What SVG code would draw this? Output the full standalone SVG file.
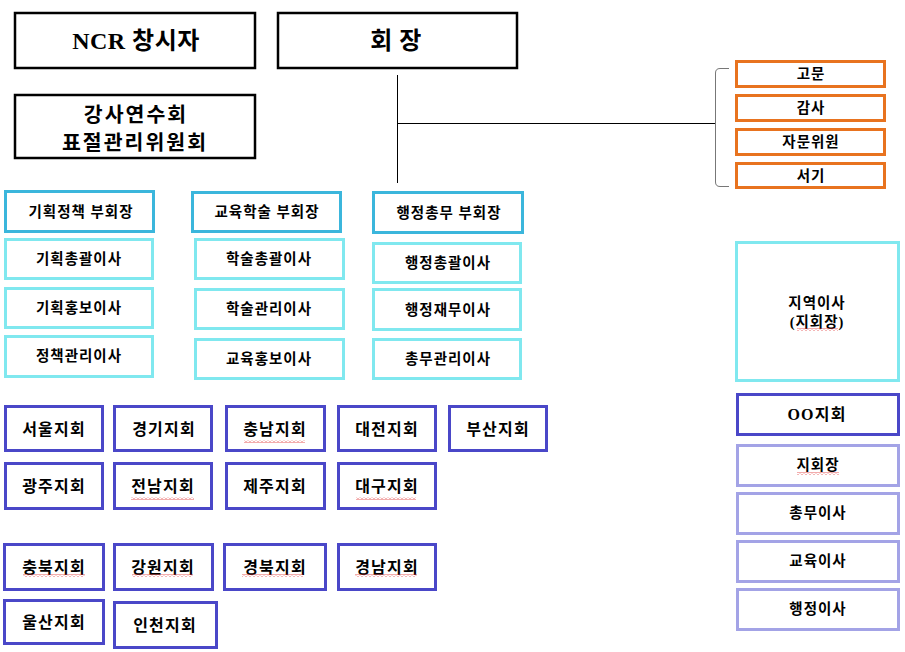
<svg xmlns="http://www.w3.org/2000/svg" width="905" height="652" viewBox="0 0 905 652">
<defs>
<pattern id="sq" x="0" y="0" width="4" height="3" patternUnits="userSpaceOnUse">
<path d="M0 2.5 L2 0.5 L4 2.5" fill="none" stroke="#e0302f" stroke-width="0.8"/>
</pattern>
<style>
rect{fill:#fff}
.blk{stroke:#000;stroke-width:2.5}
.hdr{stroke:#3bb6dc;stroke-width:3}
.cy{stroke:#80e8ef;stroke-width:3}
.or{stroke:#e8731f;stroke-width:3}
.db{stroke:#4a47c8;stroke-width:3}
.lp{stroke:#a3a3e6;stroke-width:3}
.sq{fill:url(#sq);stroke:none}
text{font-family:"Liberation Serif","Noto Sans CJK KR",serif;font-weight:bold;fill:#000;text-anchor:middle;dominant-baseline:central}
.big{font-size:24px;letter-spacing:0.5px}
.mid{font-size:20.5px;letter-spacing:2px}
.sm{font-size:14.5px;letter-spacing:1px}
.br{font-size:16px;letter-spacing:1.2px}
.line{stroke:#000;stroke-width:1;fill:none}
.brk{stroke:#777;stroke-width:1;fill:none}
</style>
</defs>

<g id="connectors">
<path class="line" d="M397.5 75 V183"/>
<path class="line" d="M397.5 123.5 H715"/>
<path class="brk" d="M729 68.5 H720 Q715.5 68.5 715.5 73 V182 Q715.5 186.5 720 186.5 H729"/>
</g>

<g id="ncr"><rect class="blk" x="15" y="13" width="240" height="55"/><text class="big" x="136" y="41">NCR 창시자</text></g>
<g id="chair"><rect class="blk" x="278" y="13" width="239" height="55"/><text class="big" x="396" y="41">회 장</text></g>
<g id="committee"><rect class="blk" x="15" y="95" width="240" height="63"/><text class="mid" x="136" y="115">강사연수회</text><text class="mid" x="135" y="143">표절관리위원회</text></g>

<g id="advisor"><rect class="or" x="736.5" y="61.5" width="148" height="25"/><text class="sm" x="811" y="74">고문</text></g>
<g id="audit"><rect class="or" x="736.5" y="95.5" width="148" height="25"/><text class="sm" x="811" y="108">감사</text></g>
<g id="consult"><rect class="or" x="736.5" y="129.5" width="148" height="25"/><text class="sm" x="811" y="142">자문위원</text></g>
<g id="secretary"><rect class="or" x="736.5" y="163.5" width="148" height="24"/><text class="sm" x="811" y="175.5">서기</text></g>

<g id="vp1"><rect class="hdr" x="5.5" y="191.5" width="148" height="40"/><text class="sm" x="81" y="211.5">기획정책 부회장</text></g>
<g id="d11"><rect class="cy" x="5.5" y="239.5" width="147" height="39"/><text class="sm" x="79" y="259">기획총괄이사</text></g>
<g id="d12"><rect class="cy" x="5.5" y="288.5" width="147" height="39"/><text class="sm" x="79" y="308">기획홍보이사</text></g>
<g id="d13"><rect class="cy" x="5.5" y="336.5" width="147" height="40"/><text class="sm" x="79" y="356">정책관리이사</text></g>

<g id="vp2"><rect class="hdr" x="192.5" y="192.5" width="148" height="39"/><text class="sm" x="267" y="212">교육학술 부회장</text></g>
<g id="d21"><rect class="cy" x="195.5" y="239.5" width="148" height="39"/><text class="sm" x="269" y="259">학술총괄이사</text></g>
<g id="d22"><rect class="cy" x="195.5" y="289.5" width="148" height="39"/><text class="sm" x="269" y="309">학술관리이사</text></g>
<g id="d23"><rect class="cy" x="195.5" y="339.5" width="148" height="39"/><text class="sm" x="269" y="359">교육홍보이사</text></g>

<g id="vp3"><rect class="hdr" x="373.5" y="192.5" width="149" height="40"/><text class="sm" x="449" y="212.5">행정총무 부회장</text></g>
<g id="d31"><rect class="cy" x="373.5" y="243.5" width="147" height="39"/><text class="sm" x="448" y="263">행정총괄이사</text></g>
<g id="d32"><rect class="cy" x="373.5" y="289.5" width="147" height="40"/><text class="sm" x="448" y="309.5">행정재무이사</text></g>
<g id="d33"><rect class="cy" x="373.5" y="339.5" width="147" height="39"/><text class="sm" x="448" y="359">총무관리이사</text></g>

<g id="regional"><rect class="cy" x="736.5" y="242.5" width="162" height="138"/><text class="sm" x="817" y="303">지역이사</text><text class="sm" x="817" y="322">(지회장)</text><rect class="sq" x="797" y="328" width="41" height="3"/></g>

<g id="oo"><rect class="db" x="737.5" y="394.5" width="161" height="40"/><text class="br" x="817" y="414.5">OO지회</text></g>
<g id="r1"><rect class="lp" x="737.5" y="445.5" width="161" height="40"/><text class="sm" x="818" y="465">지회장</text><rect class="sq" x="797" y="472" width="42" height="3"/></g>
<g id="r2"><rect class="lp" x="737.5" y="493.5" width="161" height="40"/><text class="sm" x="818" y="513">총무이사</text></g>
<g id="r3"><rect class="lp" x="737.5" y="541.5" width="161" height="40"/><text class="sm" x="818" y="561">교육이사</text></g>
<g id="r4"><rect class="lp" x="737.5" y="589.5" width="161" height="40"/><text class="sm" x="818" y="609">행정이사</text></g>

<g id="seoul"><rect class="db" x="5.5" y="406.5" width="97" height="44"/><text class="br" x="54" y="429">서울지회</text></g>
<g id="gyeonggi"><rect class="db" x="114.5" y="406.5" width="97" height="44"/><text class="br" x="164" y="429">경기지회</text></g>
<g id="chungnam"><rect class="db" x="226.5" y="406.5" width="98" height="44"/><text class="br" x="275" y="429">충남지회</text><rect class="sq" x="244" y="440" width="61" height="3"/></g>
<g id="daejeon"><rect class="db" x="338.5" y="406.5" width="97" height="44"/><text class="br" x="387" y="429">대전지회</text></g>
<g id="busan"><rect class="db" x="449.5" y="406.5" width="97" height="44"/><text class="br" x="498" y="429">부산지회</text></g>

<g id="gwangju"><rect class="db" x="5.5" y="463.5" width="97" height="45"/><text class="br" x="54" y="486">광주지회</text></g>
<g id="jeonnam"><rect class="db" x="114.5" y="463.5" width="97" height="45"/><text class="br" x="163" y="486">전남지회</text><rect class="sq" x="131" y="497" width="63" height="3"/></g>
<g id="jeju"><rect class="db" x="226.5" y="463.5" width="98" height="45"/><text class="br" x="275" y="486">제주지회</text></g>
<g id="daegu"><rect class="db" x="338.5" y="463.5" width="97" height="45"/><text class="br" x="387" y="486">대구지회</text><rect class="sq" x="356" y="497" width="60" height="3"/></g>

<g id="chungbuk"><rect class="db" x="4.5" y="544.5" width="99" height="45"/><text class="br" x="54" y="567">충북지회</text><rect class="sq" x="23" y="574" width="62" height="3"/></g>
<g id="gangwon"><rect class="db" x="114.5" y="544.5" width="98" height="45"/><text class="br" x="163" y="567">강원지회</text><rect class="sq" x="132" y="574" width="61" height="3"/></g>
<g id="gyeongbuk"><rect class="db" x="224.5" y="544.5" width="101" height="45"/><text class="br" x="275" y="567">경북지회</text><rect class="sq" x="242" y="574" width="61" height="3"/></g>
<g id="gyeongnam"><rect class="db" x="338.5" y="544.5" width="97" height="45"/><text class="br" x="387" y="567">경남지회</text><rect class="sq" x="355" y="574" width="62" height="3"/></g>

<g id="ulsan"><rect class="db" x="4.5" y="600.5" width="99" height="43"/><text class="br" x="54" y="622">울산지회</text></g>
<g id="incheon"><rect class="db" x="114.5" y="602.5" width="102" height="45"/><text class="br" x="165" y="625">인천지회</text></g>
</svg>
